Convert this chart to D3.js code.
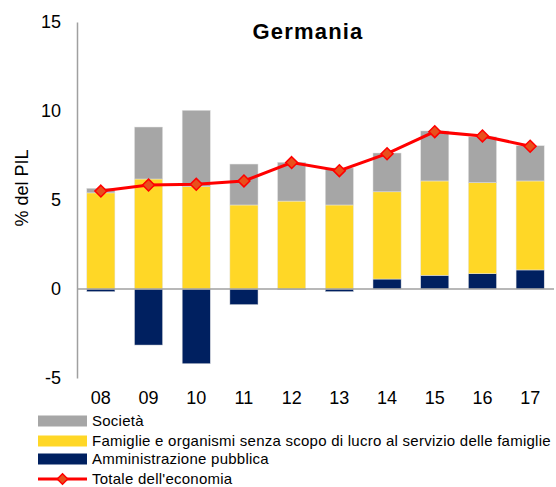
<!DOCTYPE html>
<html>
<head>
<meta charset="utf-8">
<script src="https://cdn.jsdelivr.net/npm/d3@7"></script>
<style>
  body { margin: 0; background: #fff; }
  svg text { font-family: "Liberation Sans", Arial, sans-serif; }
</style>
</head>
<body>
<svg id="chart" width="556" height="487"></svg>
<script>
const years = ["08", "09", "10", "11", "12", "13", "14", "15", "16", "17"]
const pubblica = [-0.15, -3.15, -4.20, -0.88, -0.03, -0.15, 0.56, 0.77, 0.86, 1.07]
const famiglie = [5.40, 6.18, 5.75, 4.72, 4.94, 4.72, 4.90, 5.30, 5.11, 5.00]
const societa = [0.26, 2.92, 4.29, 2.30, 2.18, 2.08, 2.18, 2.81, 2.58, 1.98]
const totale = [5.50, 5.84, 5.88, 6.07, 7.10, 6.65, 7.60, 8.84, 8.60, 8.02]
const yTicks = [-5, 0, 5, 10, 15]

const colors = { pubblica: "#002060", famiglie: "#FFD726", societa: "#A6A6A6" }
const legendItems = [
  { key: "societa", label: "Società" },
  { key: "famiglie", label: "Famiglie e organismi senza scopo di lucro al servizio delle famiglie" },
  { key: "pubblica", label: "Amministrazione pubblica" },
  { key: "line", label: "Totale dell'economia" }
]

const svg = d3.select("#chart")
const plotLeft = 77, plotRight = 554, plotTop = 22, plotBottom = 378

const table = years.map((yr, i) => ({ year: yr, pubblica: pubblica[i], famiglie: famiglie[i], societa: societa[i], totale: totale[i] }))

const x = d3.scaleBand().domain(years).range([plotLeft, plotRight]).paddingInner(0.41).paddingOuter(0.205)
const y = d3.scaleLinear().domain([-5, 15]).range([plotBottom, plotTop])

const stack = d3.stack()
  .keys(["pubblica", "famiglie", "societa"])
  .offset(d3.stackOffsetDiverging)
const series = stack(table)

// bars
svg.append("g")
  .selectAll("g")
  .data(series)
  .join("g")
  .attr("fill", d => colors[d.key])
  .selectAll("rect")
  .data(d => d)
  .join("rect")
  .attr("x", d => x(d.data.year))
  .attr("width", x.bandwidth())
  .attr("y", d => y(Math.max(d[0], d[1])))
  .attr("height", d => Math.abs(y(d[0]) - y(d[1])))
  .attr("stroke", "#e4e4e4")
  .attr("stroke-width", 0.5)

// axes
const yAxis = svg.append("g")
  .attr("transform", `translate(${plotLeft},0)`)
  .call(d3.axisLeft(y).tickValues(yTicks).tickFormat(d => String(d)).tickSize(0).tickPadding(16))
yAxis.select(".domain").attr("stroke", "#a0a0a0").attr("stroke-width", 1.5)
yAxis.selectAll("text").attr("font-size", 18).attr("fill", "#000")
  .attr("font-family", "Liberation Sans, Arial, sans-serif")

svg.append("line")
  .attr("x1", plotLeft).attr("x2", plotRight)
  .attr("y1", y(0)).attr("y2", y(0))
  .attr("stroke", "#a0a0a0").attr("stroke-width", 1.5)

const xAxis = svg.append("g")
  .attr("transform", `translate(0,${plotBottom})`)
  .call(d3.axisBottom(x).tickSize(0).tickPadding(13))
xAxis.select(".domain").remove()
xAxis.selectAll("text").attr("font-size", 18).attr("fill", "#000")
  .attr("font-family", "Liberation Sans, Arial, sans-serif")

// y title
svg.append("text")
  .attr("transform", `translate(28,188) rotate(-90)`)
  .attr("text-anchor", "middle")
  .attr("font-size", 18)
  .text("% del PIL")

// title
svg.append("text")
  .attr("x", 308).attr("y", 39)
  .attr("text-anchor", "middle")
  .attr("font-size", 22)
  .attr("font-weight", "bold")
  .attr("letter-spacing", 1.2)
  .text("Germania")

// line
const cx = d => x(d.year) + x.bandwidth() / 2
svg.append("path")
  .datum(table)
  .attr("fill", "none")
  .attr("stroke", "#FF0000")
  .attr("stroke-width", 3)
  .attr("d", d3.line().x(cx).y(d => y(d.totale)))

const diamond = d3.symbol().type(d3.symbolDiamond2).size(90)
svg.append("g")
  .selectAll("path")
  .data(table)
  .join("path")
  .attr("transform", d => `translate(${cx(d)},${y(d.totale)})`)
  .attr("d", diamond)
  .attr("fill", "#E8501C")
  .attr("stroke", "#FF0000")
  .attr("stroke-width", 1.5)

// legend
const legend = svg.append("g").attr("transform", "translate(38,421)")
const row = legend.selectAll("g")
  .data(legendItems)
  .join("g")
  .attr("transform", (d, i) => `translate(0,${[0, 20, 38, 58][i]})`)

row.filter(d => d.key !== "line")
  .append("rect")
  .attr("x", 0).attr("y", -5.5)
  .attr("width", 49).attr("height", 11)
  .attr("fill", d => colors[d.key])

const lineRow = row.filter(d => d.key === "line")
lineRow.append("line")
  .attr("x1", 0).attr("x2", 49)
  .attr("stroke", "#FF0000").attr("stroke-width", 3)
lineRow.append("path")
  .attr("transform", "translate(24.5,0)")
  .attr("d", d3.symbol().type(d3.symbolDiamond2).size(70))
  .attr("fill", "#E8501C")
  .attr("stroke", "#FF0000")
  .attr("stroke-width", 1.5)

row.append("text")
  .attr("x", 54)
  .attr("dy", "0.36em")
  .attr("font-size", 15)
  .attr("letter-spacing", 0.25)
  .text(d => d.label)
</script>
</body>
</html>
